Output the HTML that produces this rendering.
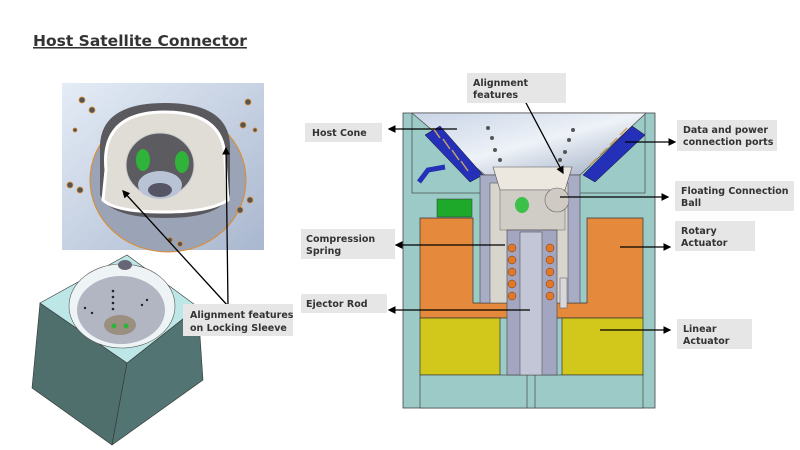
<!DOCTYPE html>
<html><head><meta charset="utf-8"><style>
html,body{margin:0;padding:0;background:#fff;width:800px;height:450px;overflow:hidden}
svg text{font-family:"DejaVu Sans","Liberation Sans",sans-serif;font-weight:bold;fill:#333;font-size:9.5px}
</style></head><body>
<svg width="800" height="450" viewBox="0 0 800 450" xmlns="http://www.w3.org/2000/svg">
<defs>
<linearGradient id="cone" x1="0" y1="0" x2="1" y2="1"><stop offset="0" stop-color="#c8d4e6"/><stop offset="0.5" stop-color="#eef2f8"/><stop offset="1" stop-color="#9aa8c0"/></linearGradient>
<linearGradient id="ph" x1="0" y1="0" x2="1" y2="1"><stop offset="0" stop-color="#e4ecf6"/><stop offset="1" stop-color="#a9b7cf"/></linearGradient>
<marker id="ah" markerWidth="6" markerHeight="6" refX="5" refY="3" orient="auto"><path d="M0,0 L6,3 L0,6 z" fill="#000"/></marker>
</defs>
<text x="33" y="46" style="font-size:15.5px;fill:#333;text-decoration:underline">Host Satellite Connector</text>

<!-- photo top-left -->
<rect x="62" y="83" width="202" height="167" fill="url(#ph)"/>
<ellipse cx="168" cy="180" rx="78" ry="72" fill="#9aa4b6" stroke="#e08a2a" stroke-width="1"/>
<path d="M100,150 Q98,103 165,103 Q232,103 230,150 L230,195 Q220,218 165,218 Q110,218 100,195 Z" fill="#5a5a5e"/>
<path d="M106,170 Q100,112 165,112 Q225,112 225,160 L228,200 Q210,212 165,212 Q115,212 103,200 Z" fill="#e0dcd6" stroke="#fff" stroke-width="3"/>
<ellipse cx="160" cy="165" rx="34" ry="32" fill="#5c5c60" stroke="#ccc"/>
<ellipse cx="143" cy="160" rx="7" ry="11" fill="#2fb33a"/>
<ellipse cx="182" cy="162" rx="7" ry="11" fill="#2fb33a"/>
<ellipse cx="160" cy="185" rx="22" ry="14" fill="#b8c4d6"/>
<ellipse cx="160" cy="190" rx="12" ry="7" fill="#556"/>
<g fill="#555" stroke="#e08a2a" stroke-width="0.8">
<circle cx="82" cy="100" r="3"/><circle cx="92" cy="110" r="3"/><circle cx="75" cy="130" r="2"/><circle cx="248" cy="102" r="3"/><circle cx="243" cy="125" r="3"/><circle cx="255" cy="130" r="2"/><circle cx="70" cy="185" r="3"/><circle cx="80" cy="190" r="3"/><circle cx="250" cy="200" r="3"/><circle cx="240" cy="210" r="3"/><circle cx="170" cy="240" r="2.5"/><circle cx="180" cy="244" r="2.5"/></g>

<!-- cube -->
<polygon points="40,303 127,363 112,445 32,388" fill="#4f6f6c" stroke="#333" stroke-width="0.6"/>
<polygon points="127,363 198,307 203,380 112,445" fill="#527472" stroke="#333" stroke-width="0.6"/>
<polygon points="127,255 198,307 127,363 40,303" fill="#bde6e6" stroke="#333" stroke-width="0.6"/>
<ellipse cx="122" cy="306" rx="53" ry="42" fill="#eef4f6" stroke="#555" stroke-width="0.6"/>
<ellipse cx="121" cy="310" rx="44" ry="34" fill="#b2b6c2"/>
<ellipse cx="120" cy="325" rx="16" ry="10" fill="#9a8f80"/>
<circle cx="114" cy="326" r="2.5" fill="#2fb33a"/><circle cx="126" cy="326" r="2.5" fill="#2fb33a"/>
<ellipse cx="125" cy="265" rx="7" ry="5" fill="#667"/>
<g fill="#223"><circle cx="113" cy="291" r="1.3"/><circle cx="113" cy="297" r="1.3"/><circle cx="113" cy="303" r="1.3"/><circle cx="113" cy="309" r="1.3"/><circle cx="147" cy="300" r="1.2"/><circle cx="142" cy="305" r="1.2"/><circle cx="85" cy="308" r="1.2"/><circle cx="92" cy="313" r="1.2"/></g>

<line x1="228" y1="306" x2="123" y2="191" stroke="#000" stroke-width="1.3" marker-end="url(#ah)"/>
<line x1="228" y1="306" x2="226" y2="148" stroke="#000" stroke-width="1.3" marker-end="url(#ah)"/>
<rect x="183" y="304" width="110" height="32" fill="#e6e6e6"/>
<text x="190" y="318">Alignment features</text>
<text x="190" y="331">on Locking Sleeve</text>

<!-- cross-section -->
<rect x="403" y="113" width="252" height="295" fill="#9ccbc7" stroke="#444" stroke-width="0.8"/>
<rect x="412" y="113" width="233" height="80" fill="none" stroke="#333" stroke-width="0.6"/>
<polygon points="412,113 646,113 580,175 485,175" fill="url(#cone)" stroke="#555" stroke-width="0.8"/>
<polygon points="425,135 440,126 483,175 470,182" fill="#2430b8" stroke="#111" stroke-width="0.5"/>
<polygon points="632,126 645,135 595,182 583,175" fill="#2430b8" stroke="#111" stroke-width="0.5"/>
<g stroke="#c9a060" stroke-width="1.5"><line x1="433" y1="128" x2="440" y2="138"/><line x1="443" y1="139" x2="450" y2="149"/><line x1="452" y1="150" x2="459" y2="160"/><line x1="461" y1="161" x2="468" y2="171"/><line x1="620" y1="135" x2="627" y2="128"/><line x1="610" y1="145" x2="617" y2="138"/><line x1="600" y1="155" x2="607" y2="148"/><line x1="590" y1="165" x2="597" y2="158"/></g>
<path d="M445,167 L428,170 L419,182" stroke="#2430b8" stroke-width="5" fill="none"/>
<rect x="437" y="199" width="35" height="18" fill="#1fa92a" stroke="#333" stroke-width="0.5"/>
<path d="M420,218 H473 V303 H587 V218 H643 V318 H420 Z" fill="#e58a3c" stroke="#333" stroke-width="0.7"/>
<path d="M420,318 H500 V375 H420 Z M562,318 H643 V375 H562 Z" fill="#d2c81c" stroke="#333" stroke-width="0.7"/>
<rect x="420" y="375" width="223" height="33" fill="#9ccbc7" stroke="#333" stroke-width="0.6"/>
<line x1="527" y1="375" x2="527" y2="408" stroke="#333" stroke-width="0.6"/>
<line x1="535" y1="375" x2="535" y2="408" stroke="#333" stroke-width="0.6"/>
<rect x="480" y="175" width="100" height="128" fill="#a8acc4" stroke="#444" stroke-width="0.6"/>
<rect x="490" y="183" width="78" height="120" fill="#d8d4ce" stroke="#555" stroke-width="0.6"/>
<polygon points="493,167 572,167 565,190 500,190" fill="#ece8e0" stroke="#555" stroke-width="0.6"/>
<rect x="500" y="190" width="65" height="40" fill="#d0ccc6" stroke="#666" stroke-width="0.5"/>
<ellipse cx="522" cy="205" rx="7" ry="8" fill="#3cc04a"/>
<circle cx="557" cy="200" r="12" fill="#cfcac4" stroke="#666" stroke-width="0.6"/>
<rect x="507" y="230" width="50" height="145" fill="#a2a6c0" stroke="#444" stroke-width="0.6"/>
<rect x="520" y="232" width="22" height="143" fill="#c2c6d6" stroke="#555" stroke-width="0.6"/>
<g fill="#e0782a" stroke="#7a3a10" stroke-width="0.5">
<circle cx="512" cy="248" r="4"/><circle cx="512" cy="260" r="4"/><circle cx="512" cy="272" r="4"/><circle cx="512" cy="284" r="4"/><circle cx="512" cy="296" r="4"/>
<circle cx="550" cy="248" r="4"/><circle cx="550" cy="260" r="4"/><circle cx="550" cy="272" r="4"/><circle cx="550" cy="284" r="4"/><circle cx="550" cy="296" r="4"/></g>
<rect x="560" y="278" width="7" height="30" fill="#d8d8dc" stroke="#555" stroke-width="0.5"/>
<g fill="#555"><circle cx="488" cy="128" r="2"/><circle cx="492" cy="138" r="2"/><circle cx="495" cy="150" r="2"/><circle cx="573" cy="130" r="2"/><circle cx="569" cy="140" r="2"/><circle cx="565" cy="152" r="2"/><circle cx="500" cy="160" r="2"/><circle cx="560" cy="160" r="2"/></g>

<g stroke="#000" stroke-width="1.3" marker-end="url(#ah)">
<line x1="457" y1="129" x2="389" y2="129"/>
<line x1="505" y1="245" x2="396" y2="245"/>
<line x1="530" y1="310" x2="389" y2="310"/>
<line x1="625" y1="142" x2="675" y2="142"/>
<line x1="560" y1="197" x2="668" y2="197"/>
<line x1="620" y1="247" x2="670" y2="247"/>
<line x1="600" y1="330" x2="670" y2="330"/>
<line x1="525" y1="101" x2="563" y2="173"/>
</g>
<g fill="#e6e6e6">
<rect x="467" y="73" width="99" height="30"/>
<rect x="305" y="123" width="77" height="19"/>
<rect x="301" y="229" width="94" height="30"/>
<rect x="301" y="294" width="86" height="19"/>
<rect x="677" y="120" width="100" height="31"/>
<rect x="675" y="181" width="119" height="30"/>
<rect x="675" y="221" width="80" height="30"/>
<rect x="677" y="319" width="75" height="30"/>
</g>
<text x="473" y="86">Alignment</text><text x="473" y="98">features</text>
<text x="312" y="136">Host Cone</text>
<text x="306" y="242">Compression</text><text x="306" y="254">Spring</text>
<text x="306" y="307">Ejector Rod</text>
<text x="683" y="133">Data and power</text><text x="683" y="145">connection ports</text>
<text x="681" y="194">Floating Connection</text><text x="681" y="206">Ball</text>
<text x="681" y="234">Rotary</text><text x="681" y="246">Actuator</text>
<text x="683" y="332">Linear</text><text x="683" y="344">Actuator</text>
</svg>
</body></html>
